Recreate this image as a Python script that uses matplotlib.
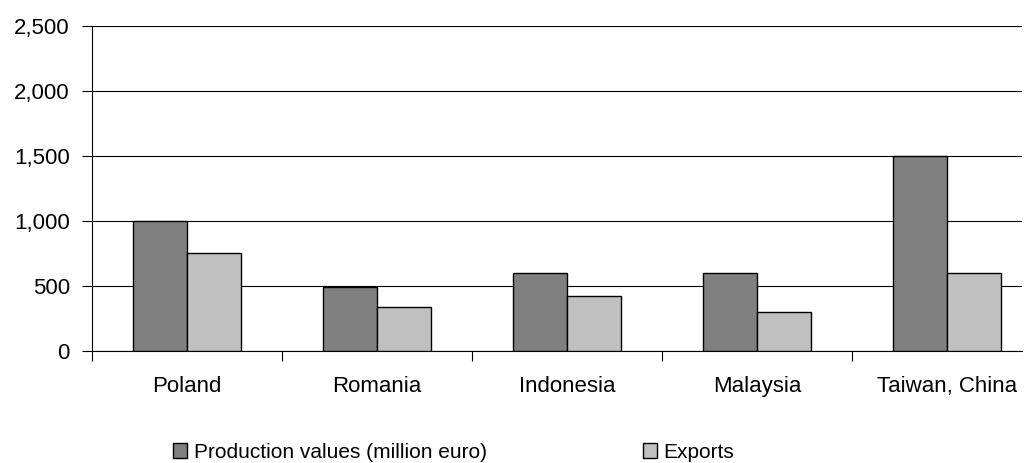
import numpy as np
import matplotlib.pyplot as plt
from matplotlib.ticker import FuncFormatter

plt.rcParams['font.family'] = ['Liberation Sans', 'DejaVu Sans']

countries = ['Poland', 'Romania', 'Indonesia', 'Malaysia', 'Taiwan, China']
production = [1000, 490, 600, 600, 1500]
exports = [750, 335, 420, 300, 600]

index = np.arange(len(countries))
bar_width = 0.285

fig = plt.figure(figsize=(10.31, 4.63), dpi=100)
ax = fig.add_axes([92 / 1031, 1 - 350.7 / 463, 930 / 1031, 324.7 / 463])

ax.bar(index - bar_width / 2, production, bar_width, color='#808080',
       edgecolor='black', linewidth=1, label='Production values (million euro)', zorder=3)
ax.bar(index + bar_width / 2, exports, bar_width, color='#c0c0c0',
       edgecolor='black', linewidth=1, label='Exports', zorder=3)

# the plot area is cut off a little before the end of the last category
ax.set_xlim(-0.5, -0.5 + 930 / 190)
ax.set_ylim(0, 2500)
ax.set_yticks(np.arange(0, 2501, 500))
ax.yaxis.set_major_formatter(FuncFormatter(lambda v, p: f'{int(v):,}'))
ax.grid(axis='y', color='black', linewidth=0.8, zorder=0)

# category names centred, tick marks between categories
ax.set_xticks(index)
ax.set_xticklabels(countries, fontsize=16)
ax.tick_params(axis='x', which='major', length=0, pad=18)
ax.set_xticks(np.arange(-0.5, len(countries) - 0.5, 1), minor=True)
ax.tick_params(axis='x', which='minor', length=7, direction='out', width=0.8)
ax.tick_params(axis='y', length=7, width=0.8, pad=9, labelsize=16)

for side in ['top', 'right']:
    ax.spines[side].set_visible(False)
for side in ['left', 'bottom']:
    ax.spines[side].set_linewidth(0.8)

fig.legend(loc='center', bbox_to_anchor=(0.44, 1 - 452 / 463), ncol=2, frameon=False,
           handlelength=0.7, handleheight=0.7, handletextpad=0.3, columnspacing=7.5,
           fontsize=15, borderpad=0)

fig.savefig('out.png', dpi=100)
